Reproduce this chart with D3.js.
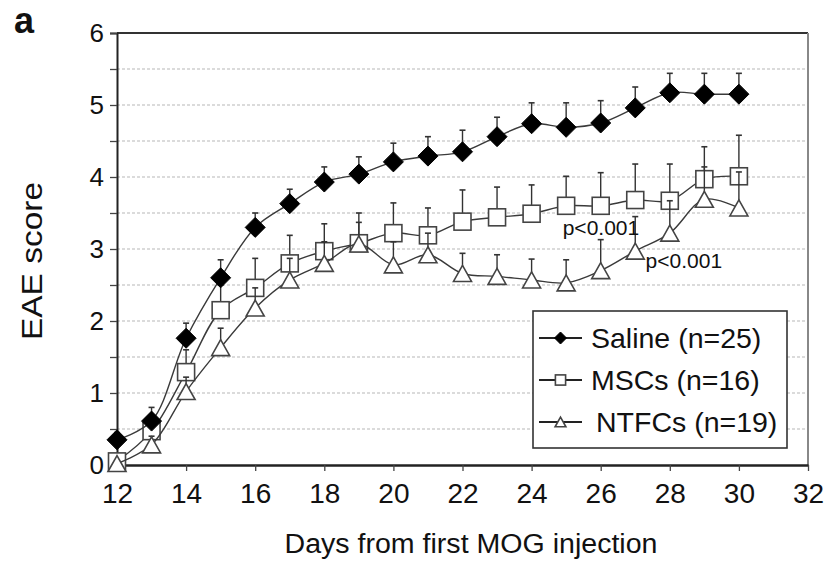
<!DOCTYPE html>
<html><head><meta charset="utf-8">
<script src="https://cdn.jsdelivr.net/npm/d3@7"></script>
<style>body{margin:0;background:#fff}svg{display:block;font-family:"Liberation Sans",Arial,sans-serif}</style>
</head><body><svg id="c" width="828" height="563"></svg>
<script>
const days = [12,13,14,15,16,17,18,19,20,21,22,23,24,25,26,27,28,29,30];
const saline = [0.35,0.61,1.76,2.6,3.3,3.63,3.93,4.04,4.21,4.29,4.35,4.56,4.74,4.69,4.75,4.96,5.17,5.15,5.15];
const salineErr = [0.1,0.19,0.21,0.25,0.2,0.2,0.21,0.24,0.26,0.27,0.3,0.27,0.29,0.34,0.31,0.29,0.27,0.29,0.29];
const mscs = [0.05,0.47,1.29,2.15,2.46,2.8,2.97,3.08,3.22,3.19,3.38,3.44,3.49,3.6,3.6,3.68,3.67,3.97,4.01];
const mscsErr = [0.05,0.2,0.31,0.35,0.41,0.39,0.38,0.42,0.42,0.38,0.44,0.42,0.4,0.41,0.46,0.5,0.51,0.45,0.57];
const ntfcs = [0.02,0.28,1.02,1.63,2.18,2.57,2.8,3.07,2.78,2.92,2.66,2.62,2.57,2.53,2.7,2.97,3.22,3.69,3.57];
const ntfcsErr = [0.04,0.12,0.2,0.27,0.28,0.3,0.3,0.3,0.32,0.3,0.28,0.3,0.29,0.32,0.43,0.48,0.45,0.45,0.5];
const seriesNames = ["Saline (n=25)", "MSCs (n=16)", "NTFCs (n=19)"];
const xTicks = [12,14,16,18,20,22,24,26,28,30,32];
const yTicks = [0,1,2,3,4,5,6];
const yGrid = [0.5,1,1.5,2,2.5,3,3.5,4,4.5,5,5.5];
const annotations = [{text:"p<0.001", day:24.9, value:3.2}, {text:"p<0.001", day:27.3, value:2.73}];

const svg = d3.select("#c");
const L = 117, R = 808, T = 33, B = 465;
const x = d3.scaleLinear().domain([12,32]).range([L,R]);
const y = d3.scaleLinear().domain([0,6]).range([B,T]);

// gridlines
svg.append("g").selectAll("line").data(yGrid).join("line")
  .attr("x1",L).attr("x2",R).attr("y1",d=>y(d)).attr("y2",d=>y(d))
  .attr("stroke","#cfcfcf").attr("stroke-width",1.3).attr("stroke-dasharray","3,2");

// frame top/right
svg.append("line").attr("x1",L).attr("x2",R).attr("y1",T).attr("y2",T).attr("stroke","#333").attr("stroke-width",2);
svg.append("line").attr("x1",R).attr("x2",R).attr("y1",T).attr("y2",B).attr("stroke","#888").attr("stroke-width",2);

// axes
const yAxis = d3.axisLeft(y).tickValues(yGrid.concat([0,6])).tickSize(7)
  .tickFormat(d => yTicks.includes(d) ? d : "");
const gy = svg.append("g").attr("transform",`translate(${L},0)`).call(yAxis);
gy.select(".domain").attr("stroke","#222").attr("stroke-width",2);
gy.selectAll(".tick line").attr("stroke","#444").attr("stroke-width",1.3);
gy.selectAll(".tick text").attr("font-size",26).attr("fill","#111").attr("x",-13)
  .attr("font-family",'"Liberation Sans",Arial,sans-serif');

const xAxis = d3.axisBottom(x).tickValues(xTicks).tickSize(6).tickSizeOuter(0).tickFormat(d3.format("d"));
const gx = svg.append("g").attr("transform",`translate(0,${B})`).call(xAxis);
gx.select(".domain").attr("stroke","#222").attr("stroke-width",2.5);
gx.selectAll(".tick line").attr("stroke","#444").attr("stroke-width",1.3);
gx.selectAll(".tick text").attr("font-size",28).attr("fill","#111").attr("y",18).attr("dy","0.71em")
  .attr("font-family",'"Liberation Sans",Arial,sans-serif');

// series
const lineColor = "#3a3a3a";
const series = [
  {vals:saline, err:salineErr, shape:"diamond"},
  {vals:mscs, err:mscsErr, shape:"square"},
  {vals:ntfcs, err:ntfcsErr, shape:"triangle"}
];
function drawMarker(g, shape, cx, cy, s) {
  if (shape==="diamond") {
    g.append("path").attr("d",`M${cx},${cy-s}L${cx+s},${cy}L${cx},${cy+s}L${cx-s},${cy}Z`)
      .attr("fill","#000").attr("stroke","#000").attr("stroke-width",1);
  } else if (shape==="square") {
    const h = s*0.85;
    g.append("rect").attr("x",cx-h).attr("y",cy-h).attr("width",2*h).attr("height",2*h)
      .attr("fill","#fff").attr("stroke","#444").attr("stroke-width",1.6);
  } else {
    const w = s*0.9, h = s*0.8;
    g.append("path").attr("d",`M${cx},${cy-h}L${cx+w},${cy+h}L${cx-w},${cy+h}Z`)
      .attr("fill","#fff").attr("stroke","#444").attr("stroke-width",1.6);
  }
}
const line = d3.line().x((d,i)=>x(days[i])).y(d=>y(d)).curve(d3.curveCatmullRom.alpha(0.5));
[1,2,0].forEach(k => {
  const sr = series[k];
  const g = svg.append("g");
  sr.vals.forEach((v,i) => {
    const cx = x(days[i]), y0 = y(v), y1 = y(v+sr.err[i]);
    g.append("line").attr("x1",cx).attr("x2",cx).attr("y1",y0).attr("y2",y1).attr("stroke","#333").attr("stroke-width",1.4);
    g.append("line").attr("x1",cx-3).attr("x2",cx+3).attr("y1",y1).attr("y2",y1).attr("stroke","#333").attr("stroke-width",1.6);
  });
  g.append("path").datum(sr.vals).attr("d",line).attr("fill","none").attr("stroke",lineColor).attr("stroke-width",1.4);
  sr.vals.forEach((v,i) => drawMarker(g, sr.shape, x(days[i]), y(v), 10));
});

// annotations
svg.append("g").selectAll("text").data(annotations).join("text")
  .attr("x",d=>x(d.day)).attr("y",d=>y(d.value)).text(d=>d.text)
  .attr("font-size",21).attr("fill","#111");

// legend
const lg = svg.append("g");
lg.append("rect").attr("x",533).attr("y",311).attr("width",254).attr("height",137)
  .attr("fill","#fff").attr("stroke","#333").attr("stroke-width",1.6);
const legY = [338,380,422];
seriesNames.forEach((name,i) => {
  lg.append("line").attr("x1",539).attr("x2",582).attr("y1",legY[i]).attr("y2",legY[i]).attr("stroke","#222").attr("stroke-width",2);
  drawMarker(lg, series[i].shape, 560.5, legY[i], 6);
  lg.append("text").attr("x", i===2 ? 596 : 591).attr("y",legY[i]+10).text(name)
    .attr("font-size",28.5).attr("fill","#111");
});

// axis titles
svg.append("text").attr("x",471).attr("y",553).attr("text-anchor","middle")
  .attr("font-size",27).attr("fill","#111").text("Days from first MOG injection")
  .attr("textLength",373).attr("lengthAdjust","spacingAndGlyphs");
svg.append("text").attr("transform","translate(42,261) rotate(-90)").attr("text-anchor","middle")
  .attr("font-size",29).attr("fill","#111").text("EAE score")
  .attr("textLength",158).attr("lengthAdjust","spacingAndGlyphs");
svg.append("text").attr("x",14).attr("y",33).attr("font-size",36).attr("font-weight","bold").attr("fill","#111").text("a");
</script></body></html>
